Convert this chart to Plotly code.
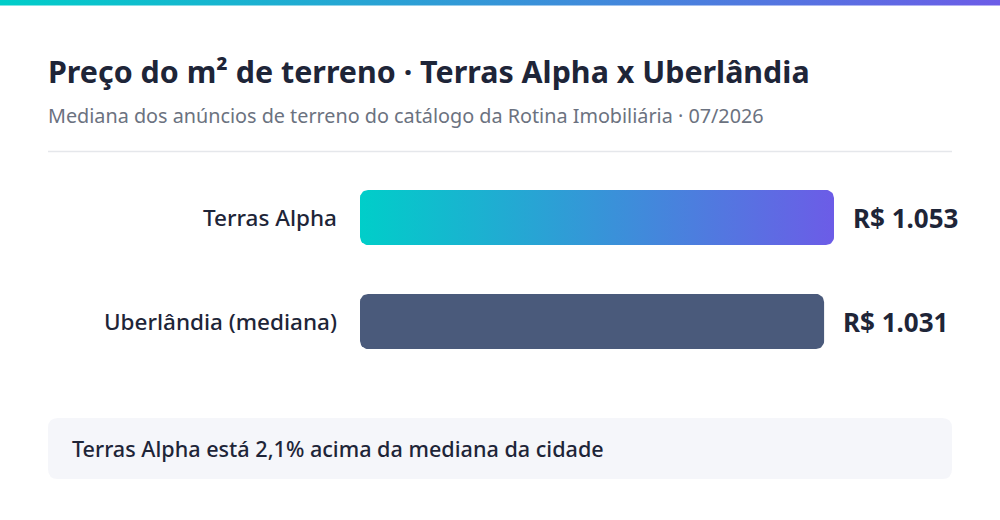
import numpy as np
import plotly.graph_objects as go

# data
categories = ["Terras Alpha", "Uberlândia (mediana)"]
precos = [1053, 1031]
bar_colors = ["gradient", "#4a5a7b"]

title = "Preço do m² de terreno · Terras Alpha x Uberlândia"
subtitle = "Mediana dos anúncios de terreno do catálogo da Rotina Imobiliária · 07/2026"
diff_pct = (precos[0] / precos[1] - 1) * 100
callout = "Terras Alpha está " + f"{diff_pct:.1f}".replace(".", ",") + "% acima da mediana da cidade"

W, H = 1000, 520
FONT = "Noto Sans"
DARK = "#1e2538"

# axis scales (pixel geometry)
x0_px = 360
kx = 474 / 1053          # px per R$
ky = 104                 # px per category step
y0_px = 217.5
xr = [-x0_px / kx, (W - x0_px) / kx]
yr = [(H - y0_px) / ky, -y0_px / ky]
half_h = 27.5 / ky
rad_px = 8


def rounded_rect(x1, x2, y1, y2, rx, ry, n=10):
    xs, ys = [], []
    corners = [(x2 - rx, y1 + ry, -np.pi / 2, 0),
               (x2 - rx, y2 - ry, 0, np.pi / 2),
               (x1 + rx, y2 - ry, np.pi / 2, np.pi),
               (x1 + rx, y1 + ry, np.pi, 1.5 * np.pi)]
    for cx, cy, a0, a1 in corners:
        t = np.linspace(a0, a1, n)
        xs += list(cx + rx * np.cos(t))
        ys += list(cy + ry * np.sin(t))
    xs.append(xs[0])
    ys.append(ys[0])
    return xs, ys


def rounded_path(x1, y1, x2, y2, r):
    return (f"M{x1 + r},{y1} L{x2 - r},{y1} Q{x2},{y1} {x2},{y1 + r} "
            f"L{x2},{y2 - r} Q{x2},{y2} {x2 - r},{y2} L{x1 + r},{y2} "
            f"Q{x1},{y2} {x1},{y2 - r} L{x1},{y1 + r} Q{x1},{y1} {x1 + r},{y1} Z")


def fmt_brl(v):
    return "R$ " + f"{v:,}".replace(",", ".")


fig = go.Figure()

grad = [[0, "#00cec9"], [1, "#6c5ce7"]]

# top strip
fig.add_trace(go.Scatter(
    x=[0, W, W, 0, 0], y=[0, 0, 5.5, 5.5, 0], xaxis="x2", yaxis="y2",
    mode="lines", line=dict(width=0), fill="toself",
    fillgradient=dict(type="horizontal", colorscale=grad),
    hoverinfo="skip", showlegend=False))

for i, (cat, v, c) in enumerate(zip(categories, precos, bar_colors)):
    xs, ys = rounded_rect(0, v, i + half_h, i - half_h, rad_px / kx, -rad_px / ky)
    tr = dict(x=xs, y=ys, mode="lines", line=dict(width=0), fill="toself",
              hoverinfo="skip", showlegend=False, name=cat)
    if c == "gradient":
        tr["fillgradient"] = dict(type="horizontal", colorscale=grad)
    else:
        tr["fillcolor"] = c
    fig.add_trace(go.Scatter(**tr))

    fig.add_annotation(x=0, y=i, xref="x", yref="y", text=cat, showarrow=False,
                       xanchor="right", xshift=-21,
                       font=dict(family=FONT, size=22.5, color=DARK, weight=500))
    fig.add_annotation(x=v, y=i, xref="x", yref="y", text=fmt_brl(v), showarrow=False,
                       xanchor="left", xshift=17,
                       font=dict(family=FONT, size=26, color=DARK, weight=700))

# title / subtitle
fig.add_annotation(x=46 / W, y=1 - 72 / H, xref="paper", yref="paper", text=title,
                   showarrow=False, xanchor="left", yanchor="middle",
                   font=dict(family=FONT, size=30.4, color=DARK, weight=700))
fig.add_annotation(x=46 / W, y=1 - 115 / H, xref="paper", yref="paper", text=subtitle,
                   showarrow=False, xanchor="left", yanchor="middle",
                   font=dict(family=FONT, size=19.8, color="#6b7280"))

# divider
fig.add_shape(type="line", xref="paper", yref="paper",
              x0=48 / W, x1=952 / W, y0=1 - 151.5 / H, y1=1 - 151.5 / H,
              line=dict(color="#e5e7eb", width=1.5))

# callout box
fig.add_shape(type="path", xref="x2", yref="y2", path=rounded_path(48, 418, 952, 479, 10),
              fillcolor="#f5f6fa", line=dict(width=0), layer="below")
fig.add_annotation(x=70 / W, y=1 - 448.5 / H, xref="paper", yref="paper", text=callout,
                   showarrow=False, xanchor="left", yanchor="middle",
                   font=dict(family=FONT, size=21.6, color=DARK, weight=500))

fig.update_layout(
    width=W, height=H,
    margin=dict(l=0, r=0, t=0, b=0),
    paper_bgcolor="white", plot_bgcolor="rgba(0,0,0,0)",
    xaxis=dict(range=xr, domain=[0, 1], visible=False, fixedrange=True),
    yaxis=dict(range=yr, domain=[0, 1], visible=False, fixedrange=True),
    xaxis2=dict(range=[0, W], domain=[0, 1], visible=False, overlaying="x", fixedrange=True),
    yaxis2=dict(range=[H, 0], domain=[0, 1], visible=False, overlaying="y", fixedrange=True),
    showlegend=False,
)

fig.write_html("out.html", config={"displayModeBar": False},
               post_script="document.body.style.margin='0';")
